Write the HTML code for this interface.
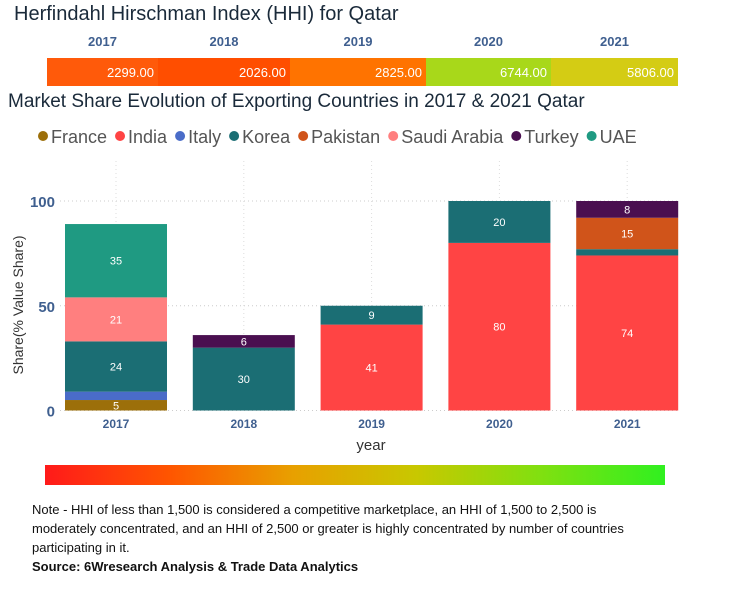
<!DOCTYPE html>
<html><head><meta charset="utf-8"><style>
body{margin:0;width:738px;height:600px;background:#fff;font-family:"Liberation Sans",sans-serif;overflow:hidden;position:relative}
.t{position:absolute;white-space:nowrap}
</style></head><body>
<div class="t" style="left:14px;top:3px;font-size:20px;color:#1a2a3a">Herfindahl Hirschman Index (HHI) for Qatar</div>
<svg id="hhi" width="738" height="95" style="position:absolute;left:0;top:0"></svg>
<div class="t" style="left:8px;top:91px;font-size:19px;color:#1a2a3a">Market Share Evolution of Exporting Countries in 2017 &amp; 2021 Qatar</div>
<svg id="chart" width="738" height="460" style="position:absolute;left:0;top:0"></svg>
<div style="position:absolute;left:45px;top:465px;width:620px;height:20px;background:linear-gradient(to right,#ff1a1a,#ff5500 20%,#e8a000 40%,#c8c800 60%,#80e010 80%,#30f020)"></div>
<div class="t" style="left:32px;top:500px;font-size:13px;line-height:19px;color:#111;white-space:normal;width:620px">Note - HHI of less than 1,500 is considered a competitive marketplace, an HHI of 1,500 to 2,500 is moderately concentrated, and an HHI of 2,500 or greater is highly concentrated by number of countries participating in it.<br><b>Source: 6Wresearch Analysis &amp; Trade Data Analytics</b></div>
<script>
const years=["2017","2018","2019","2020","2021"];
const hhiValues=[2299,2026,2825,6744,5806];
const hhiColors=["#ff5a0a","#ff4e00","#ff7300","#a8d81a","#d4cc14"];
const hhiEdges=[47,158,290,426,551,678];
const countries=["France","India","Italy","Korea","Pakistan","Saudi Arabia","Turkey","UAE"];
const colors=["#9c6f0a","#ff4444","#4a6cc8","#1b6e74","#d0541a","#ff7f7f","#4a0f50","#1f9a82"];
const France=[5,0,0,0,0];
const India=[0,0,41,80,74];
const Italy=[4,0,0,0,0];
const Korea=[24,30,9,20,3];
const Pakistan=[0,0,0,0,15];
const SaudiArabia=[21,0,0,0,0];
const Turkey=[0,6,0,0,8];
const UAE=[35,0,0,0,0];
const series=[France,India,Italy,Korea,Pakistan,SaudiArabia,Turkey,UAE];
const yTicks=[0,50,100];
const NS="http://www.w3.org/2000/svg";
function mk(svg,tag,a,txt){const e=document.createElementNS(NS,tag);for(const k in a)e.setAttribute(k,a[k]);if(txt!=null)e.textContent=txt;svg.appendChild(e);return e;}
const hhi=document.getElementById('hhi');
years.forEach((y,i)=>{
 const x0=hhiEdges[i],x1=hhiEdges[i+1];
 const r=mk(hhi,'rect',{x:x0,y:58,width:x1-x0,height:28,fill:hhiColors[i]});
 
 
 const l=mk(hhi,'text',{x:(x0+x1)/2,y:46,'text-anchor':'middle','font-size':13,'font-weight':'bold',fill:'#3f5f8f'},y);
 
 
 const v=mk(hhi,'text',{x:x1-4,y:77,'text-anchor':'end','font-size':13,fill:'#fff'},hhiValues[i].toFixed(2));
 
 
});
const c=document.getElementById('chart');
let lx=38;
countries.forEach((n,i)=>{
 const g=mk(c,'g',{});
 
 
 mk(g,'circle',{cx:lx+5,cy:136,r:5,fill:colors[i]});
 const t=mk(g,'text',{x:lx+13,y:143,'font-size':18,fill:'#555'},n);
 lx+=13+t.getComputedTextLength()+8;
});
const y0=410.5,ppu=2.095;
const yS=v=>y0-v*ppu;
const xS=i=>65+i*127.8;
const bw=102;
yTicks.forEach(t=>{
 const l=mk(c,'line',{x1:60,x2:680,y1:yS(t),y2:yS(t),stroke:'#ccc','stroke-dasharray':'1,3'});
 
 
 const tx=mk(c,'text',{x:55,y:yS(t)+6,'text-anchor':'end','font-size':15,'font-weight':'bold',fill:'#3f5f8f'},t);
 
 
});
years.forEach((y,i)=>{
 const vl=mk(c,'line',{x1:xS(i)+bw/2,x2:xS(i)+bw/2,y1:yS(100)-40,y2:y0,stroke:'#ddd','stroke-dasharray':'1,3'});
 
 
});
years.forEach((y,i)=>{
 let acc=0;
 series.forEach((s,k)=>{
  const v=s[i]; if(!v)return;
  const r=mk(c,'rect',{x:xS(i),y:yS(acc+v),width:bw,height:v*ppu,fill:colors[k]});
  
  
  if(v>=5){const t=mk(c,'text',{x:xS(i)+bw/2,y:yS(acc+v/2)+4,'text-anchor':'middle','font-size':11,fill:'#fff'},v);
   
   }
  acc+=v;
 });
 const xl=mk(c,'text',{x:xS(i)+bw/2,y:428,'text-anchor':'middle','font-size':12,'font-weight':'bold',fill:'#3f5f8f'},y);
 
 
});
const xt=mk(c,'text',{x:371,y:450,'text-anchor':'middle','font-size':15,fill:'#333'},'year');


const yt=mk(c,'text',{x:0,y:0,'text-anchor':'middle','font-size':14,fill:'#333',transform:'translate(23,305) rotate(-90)'},'Share(% Value Share)');


</script>
</body></html>
